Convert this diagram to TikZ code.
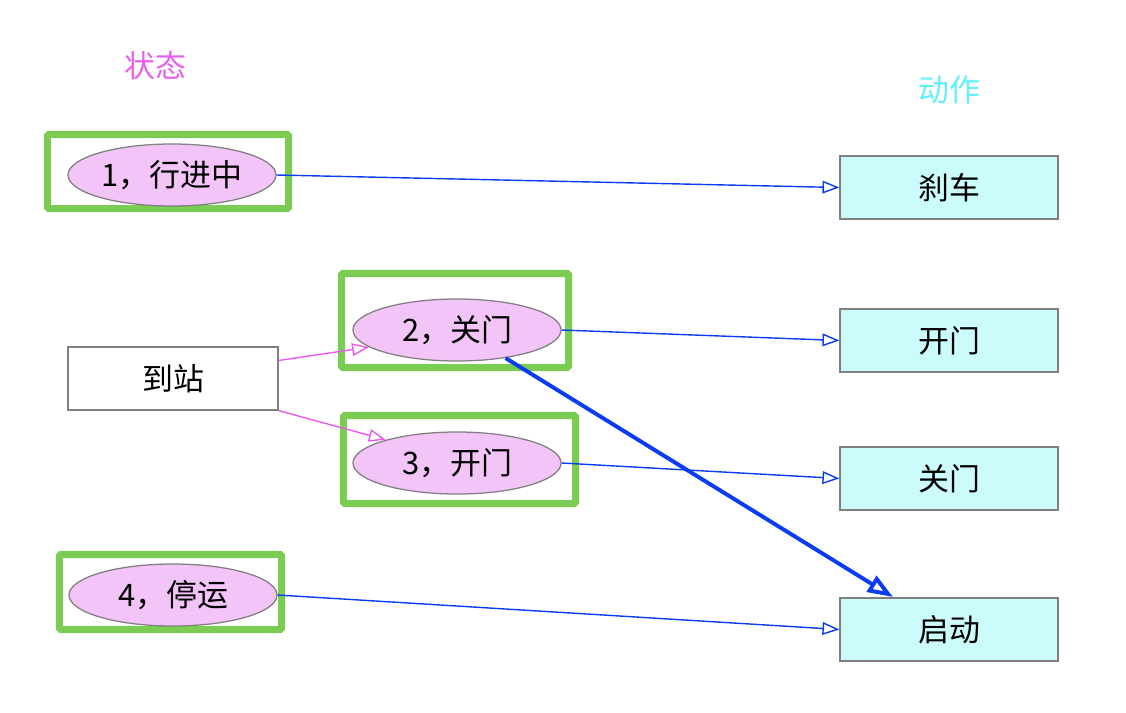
\documentclass[tikz,border=0pt]{standalone}
\usepackage{fontspec}
\newfontfamily\cjk{Noto Sans CJK SC}
\usetikzlibrary{arrows.meta, shapes.geometric}

\definecolor{statefill}{HTML}{F3C4F7}
\definecolor{actfill}{HTML}{CCFBFC}
\definecolor{framegreen}{HTML}{7ACC52}
\definecolor{flowblue}{HTML}{0A3CF5}
\definecolor{trigpink}{HTML}{EE5AF0}
\definecolor{titlepink}{HTML}{E860F0}
\definecolor{titlecyan}{HTML}{62F0FA}

\begin{document}
\begin{tikzpicture}[
    x=0.025cm, y=-0.025cm,
    every node/.style={font=\cjk\fontsize{22}{26}\selectfont},
    state/.style={ellipse, draw=black!50, fill=statefill, minimum width=5.2cm, minimum height=1.55cm, inner sep=0pt, line width=0.9pt},
    act/.style={rectangle, draw=black!50, fill=actfill, minimum width=5.45cm, minimum height=1.575cm, line width=0.9pt},
    event/.style={rectangle, draw=black!50, fill=white, minimum width=5.25cm, minimum height=1.575cm, line width=0.9pt},
    focus/.style={rectangle, draw=framegreen, line width=5pt, rounded corners=1pt, inner sep=0pt},
    flow/.style={-{Triangle[open, length=12pt, width=9pt]}, flowblue, line width=1pt},
    jump/.style={-{Triangle[open, length=18pt, width=13pt]}, flowblue, line width=2.8pt},
    trig/.style={-{Triangle[open, length=12pt, width=9pt]}, trigpink, line width=1pt},
]
\useasboundingbox (0,0) rectangle (1126,712);

\node[titlepink] (statetitle) at (155,66) {状态};
\node[titlecyan] (acttitle) at (949,90) {动作};

% green frames
\node[focus, minimum width=6.025cm, minimum height=1.85cm] (f1) at (168,171.5) {};
\node[focus, minimum width=5.675cm, minimum height=2.35cm] (f2) at (455,320.5) {};
\node[focus, minimum width=5.8cm, minimum height=2.2cm] (f3) at (459.5,459.5) {};
\node[focus, minimum width=5.55cm, minimum height=1.875cm] (f4) at (170.5,592) {};

\node[state] (s1) at (172,175) {1，行进中};
\node[state] (s2) at (457,330) {2，关门};
\node[state] (s3) at (457,463) {3，开门};
\node[state] (s4) at (173,595) {4，停运};

\node[event] (arrive) at (173,378.5) {到站};

\node[act] (brake) at (949,187.5) {刹车};
\node[act] (open) at (949,340.5) {开门};
\node[act] (close) at (949,478.5) {关门};
\node[act] (start) at (949,629.5) {启动};

\coordinate (startin) at (893,597);

\draw[flow] (s1.east) -- (brake.west);
\draw[flow] (s2.east) -- (open.west);
\draw[flow] (s3.east) -- (close.west);
\draw[flow] (s4.east) -- (start.west);
\draw[jump] (s2.330) -- (startin);

\draw[trig] ([yshift=0.45cm]arrive.east) -- (s2.191);
\draw[trig] (arrive.south east) -- (s3.162);
\end{tikzpicture}
\end{document}
